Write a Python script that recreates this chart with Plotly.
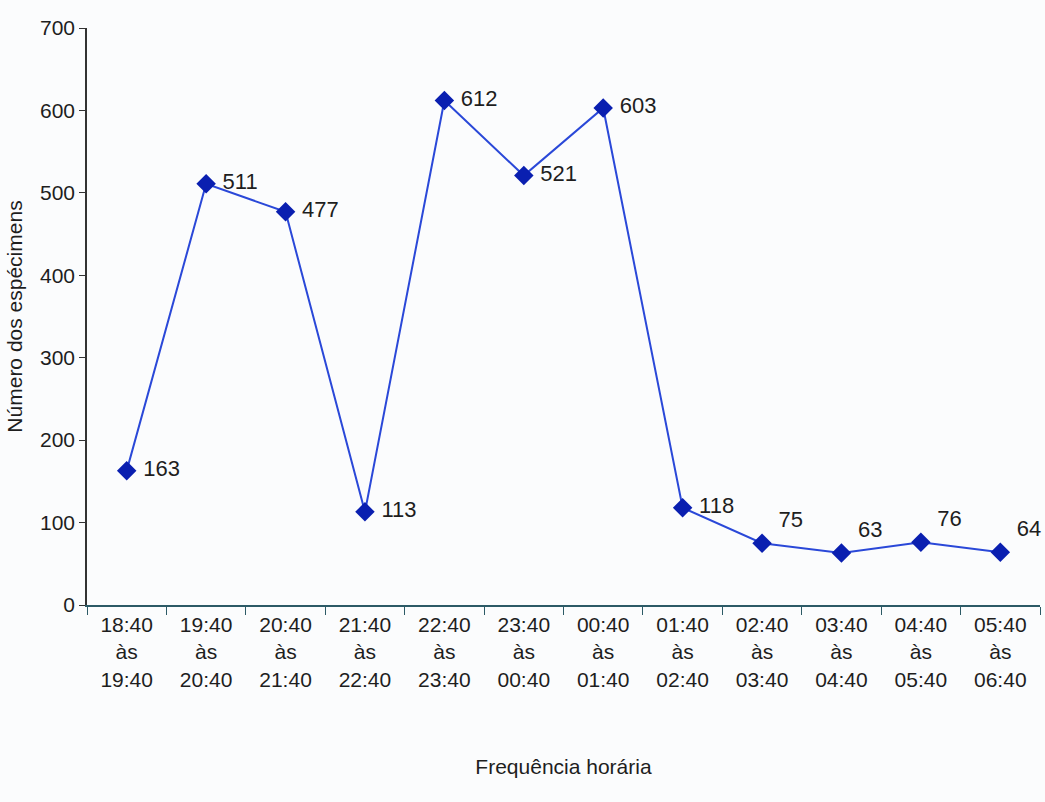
import plotly.graph_objects as go

# Hourly sampling intervals and number of specimens collected in each
intervals = [
    "18:40<br>às<br>19:40", "19:40<br>às<br>20:40", "20:40<br>às<br>21:40",
    "21:40<br>às<br>22:40", "22:40<br>às<br>23:40", "23:40<br>às<br>00:40",
    "00:40<br>às<br>01:40", "01:40<br>às<br>02:40", "02:40<br>às<br>03:40",
    "03:40<br>às<br>04:40", "04:40<br>às<br>05:40", "05:40<br>às<br>06:40",
]
specimens = [163, 511, 477, 113, 612, 521, 603, 118, 75, 63, 76, 64]
label_pos = ["middle right"] * 8 + ["top right"] * 4

fig = go.Figure(
    go.Scatter(
        x=intervals,
        y=specimens,
        mode="lines+markers+text",
        line=dict(color="#2a48d8", width=2),
        marker=dict(symbol="diamond", size=15, color="#0a1fb0"),
        text=[f" {v}" for v in specimens],
        textposition=label_pos,
        textfont=dict(family="Liberation Sans, Arial", size=22, color="#1e1e1e"),
        cliponaxis=False,
        showlegend=False,
    )
)

fig.update_layout(
    width=1045,
    height=802,
    margin=dict(l=87, r=5, t=28, b=197),
    paper_bgcolor="#fbfcfd",
    plot_bgcolor="#fbfcfd",
    font=dict(family="Liberation Sans, Arial", size=21, color="#1e1e1e"),
)
fig.update_xaxes(
    range=[-0.5, 11.5],
    showline=True,
    linecolor="#2c5a66",
    linewidth=1.5,
    ticks="outside",
    tickson="boundaries",
    ticklen=8,
    tickcolor="#2c5a66",
    showgrid=False,
    tickfont=dict(size=21),
    title=dict(text="Frequência horária", font=dict(size=21), standoff=70),
)
fig.update_yaxes(
    range=[0, 700],
    dtick=100,
    showline=True,
    linecolor="#333",
    linewidth=1.5,
    ticks="outside",
    ticklen=6,
    tickcolor="#333",
    showgrid=False,
    zeroline=False,
    tickfont=dict(size=21),
    title=dict(text="Número dos espécimens", font=dict(size=21), standoff=12),
)

fig.write_html("out.html")
